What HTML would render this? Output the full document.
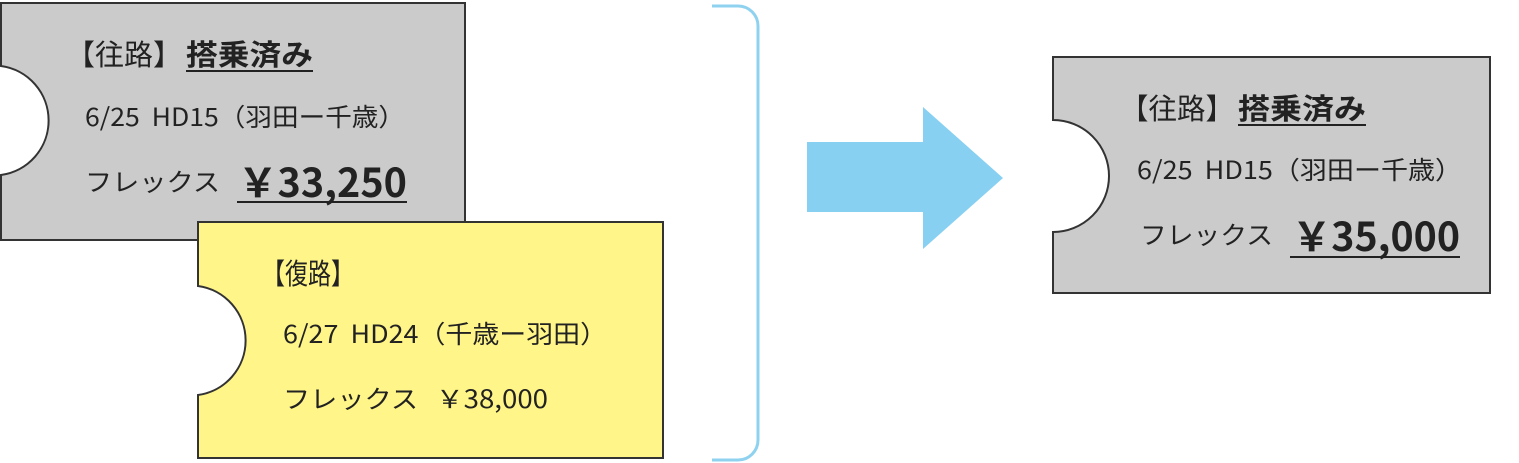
<!DOCTYPE html>
<html><head><meta charset="utf-8"><style>
html,body{margin:0;padding:0;background:#fff;}
svg{display:block;}
text{font-family:"Noto Sans CJK JP","Liberation Sans",sans-serif;fill:#222;}
.t{font-size:29px;}
.s{font-size:25px;}
.b{font-weight:bold;}
.p{font-size:40px;font-weight:bold;}
</style></head><body>
<svg width="1519" height="463" viewBox="0 0 1519 463" xmlns="http://www.w3.org/2000/svg">
<path d="M1,3 H465 V240 H1 V175 A55,55 0 0 0 1,66 Z" fill="#cbcbcb" stroke="#333" stroke-width="2"/>
<text class="t" x="66" y="65" textLength="116" lengthAdjust="spacingAndGlyphs">【往路】</text>
<text class="t b" x="186" y="65" textLength="127" lengthAdjust="spacingAndGlyphs">搭乗済み</text>
<line x1="186" y1="71" x2="313" y2="71" stroke="#222" stroke-width="2"/>
<text class="s" x="85" y="126" textLength="320" lengthAdjust="spacingAndGlyphs" xml:space="preserve">6/25  HD15（羽田ー千歳）</text>
<text class="s" x="85" y="191" textLength="135" lengthAdjust="spacingAndGlyphs">フレックス</text>
<text class="p" x="238" y="197" textLength="169" lengthAdjust="spacingAndGlyphs">￥33,250</text>
<line x1="237" y1="202" x2="407" y2="202" stroke="#222" stroke-width="2"/>
<path d="M198,222 H663 V458 H198 V395 A55,55 0 0 0 198,286 Z" fill="#fff588" stroke="#333" stroke-width="2"/>
<text class="t" x="262" y="284" textLength="92" lengthAdjust="spacingAndGlyphs">【復路】</text>
<text class="s" x="283" y="343" textLength="324" lengthAdjust="spacingAndGlyphs" xml:space="preserve">6/27  HD24（千歳ー羽田）</text>
<text class="s" x="283" y="408" textLength="135" lengthAdjust="spacingAndGlyphs">フレックス</text>
<text class="s" x="436" y="408" textLength="112" lengthAdjust="spacingAndGlyphs">￥38,000</text>
<path d="M712,6 H738 A20,20 0 0 1 758,26 V440 A20,20 0 0 1 738,460 H712" fill="none" stroke="#8fd2f0" stroke-width="3"/>
<path d="M807,142 H923 V107 L1003,178 L923,249 V212 H807 Z" fill="#88d0f2"/>
<path d="M1053,57 H1490 V293 H1053 V232 A56,56 0 0 0 1053,120 Z" fill="#cbcbcb" stroke="#333" stroke-width="2"/>
<text class="t" x="1120" y="119" textLength="114" lengthAdjust="spacingAndGlyphs">【往路】</text>
<text class="t b" x="1238" y="119" textLength="128" lengthAdjust="spacingAndGlyphs">搭乗済み</text>
<line x1="1238" y1="125" x2="1366" y2="125" stroke="#222" stroke-width="2"/>
<text class="s" x="1137" y="179" textLength="325" lengthAdjust="spacingAndGlyphs" xml:space="preserve">6/25  HD15（羽田ー千歳）</text>
<text class="s" x="1140" y="244" textLength="133" lengthAdjust="spacingAndGlyphs">フレックス</text>
<text class="p" x="1292" y="251" textLength="168" lengthAdjust="spacingAndGlyphs">￥35,000</text>
<line x1="1290" y1="257" x2="1460" y2="257" stroke="#222" stroke-width="2"/>
</svg>
</body></html>
